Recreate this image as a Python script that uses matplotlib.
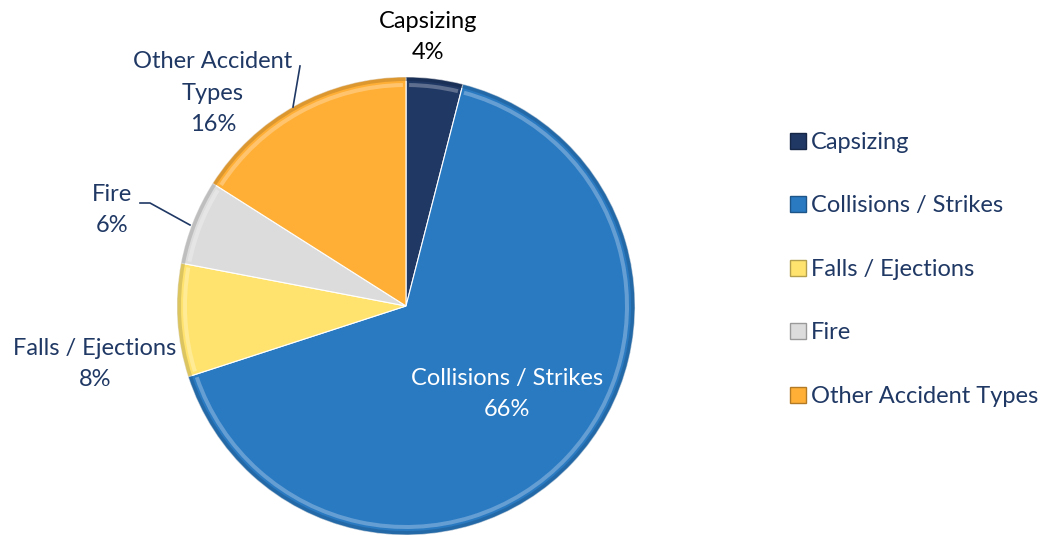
import numpy as np
import matplotlib.pyplot as plt
from matplotlib.patches import Wedge
from matplotlib.lines import Line2D
from matplotlib.colors import to_rgb

plt.rcParams['font.family'] = ['Lato', 'DejaVu Sans']

# Data
categories = ['Capsizing', 'Collisions / Strikes', 'Falls / Ejections', 'Fire', 'Other Accident Types']
shares = [4, 66, 8, 6, 16]
colors = ['#203864', '#2A7AC2', '#FFE36E', '#DCDCDC', '#FFAF36']

W, H = 1047, 535
fig = plt.figure(figsize=(W / 100, H / 100), dpi=100)
ax = fig.add_axes([0, 0, 1, 1])

cx, cy, r = 406, H - 306, 229

wedges, _ = ax.pie(shares, colors=colors, startangle=90, counterclock=False,
                   center=(cx, cy), radius=r, frame=True,
                   wedgeprops=dict(edgecolor='white', linewidth=0.8))
ax.set_xlim(0, W)
ax.set_ylim(0, H)
ax.set_aspect('equal')
ax.axis('off')


def shade(c, f):
    c = np.array(to_rgb(c))
    if f > 0:
        return tuple(c + (1 - c) * f)
    return tuple(c * (1 + f))


# fake bevel: dark rim at the edge, light rim just inside
for w, c in zip(wedges, colors):
    t1, t2 = w.theta1, w.theta2
    ax.add_patch(Wedge((cx, cy), r, t1, t2, width=4, facecolor=shade(c, -0.3),
                       edgecolor='none', alpha=0.45, zorder=2))
    ax.add_patch(Wedge((cx, cy), r - 6, t1 + 0.8, t2 - 0.8, width=4,
                       facecolor=shade(c, 0.5), edgecolor='none', alpha=0.55, zorder=2))

# labels
pct = [f'{s}%' for s in shares]
navy = '#1F3864'
fs = 17
ls = 1.6
ax.text(428, H - 37, f'{categories[0]}\n{pct[0]}', ha='center', va='center',
        fontsize=fs, color='black', linespacing=ls)
ax.text(507, H - 394, f'{categories[1]}\n{pct[1]}', ha='center', va='center',
        fontsize=fs, color='white', linespacing=ls)
ax.text(95, H - 364, f'{categories[2]}\n{pct[2]}', ha='center', va='center',
        fontsize=fs, color=navy, linespacing=ls)
ax.text(112, H - 210, f'{categories[3]}\n{pct[3]}', ha='center', va='center',
        fontsize=fs, color=navy, linespacing=ls)
ax.text(213, H - 93, 'Other Accident\nTypes\n' + pct[4], ha='center', va='center',
        fontsize=fs, color=navy, linespacing=ls)

# leader lines
ax.plot([140, 150, 190], [H - 203, H - 203, H - 225], color=navy, lw=1.2)
ax.plot([300, 293], [H - 66, H - 107], color=navy, lw=1.2)

# legend
handles = [Line2D([], [], marker='s', ls='none', markersize=11,
                  markerfacecolor=c, markeredgecolor=shade(c, -0.3), markeredgewidth=1)
           for c in colors]
leg = ax.legend(handles, categories, loc='upper left', bbox_to_anchor=(774 / W, 1 - 120 / H),
                bbox_transform=fig.transFigure, frameon=False, fontsize=fs,
                labelspacing=1.8, handletextpad=0.05, handlelength=1.0, borderpad=0)
for t in leg.get_texts():
    t.set_color(navy)

fig.savefig('out.png', dpi=100)
